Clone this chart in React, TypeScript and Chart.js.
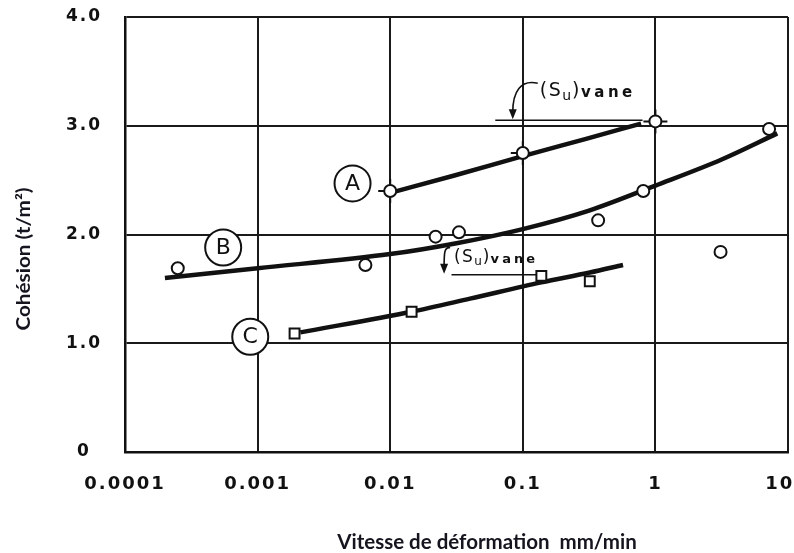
import React, { useEffect, useRef } from "react";
import { Chart, registerables } from "chart.js";

Chart.register(...registerables);

// ---- axis ticks ----
const xTicks = [0.0001, 0.001, 0.01, 0.1, 1, 10];
const xTickLabels = ["0.0001", "0.001", "0.01", "0.1", "1", "10  "];
const yTicks = [0, 1, 2, 3, 4];
const yTickLabels = ["0", "1.0", "2.0", "3.0", "4.0"];

// ---- series A (circles + fitted curve) ----
const circlesAX = [0.01, 0.1, 1];
const circlesAY = [2.4, 2.75, 3.04];
const curveAX = [0.0105, 0.03, 0.1, 0.3, 0.78];
const curveAY = [2.39, 2.54, 2.72, 2.88, 3.02];

// ---- series B ----
const circlesBX = [0.00025, 0.0065, 0.022, 0.033, 0.37, 0.81, 3.1, 7.2];
const circlesBY = [1.69, 1.72, 1.98, 2.02, 2.13, 2.4, 1.84, 2.97];
const curveBX = [0.0002, 0.001, 0.01, 0.0316, 0.1, 0.316, 1, 3.16, 8.3];
const curveBY = [1.6, 1.69, 1.82, 1.92, 2.05, 2.22, 2.45, 2.69, 2.93];

// ---- series C (squares) ----
const squaresCX = [0.0019, 0.0145, 0.138, 0.32];
const squaresCY = [1.09, 1.29, 1.62, 1.57];
const curveCX = [0.0021, 0.0145, 0.04, 0.138, 0.32, 0.57];
const curveCY = [1.1, 1.29, 1.41, 1.56, 1.65, 1.72];

// ---- (Su)vane reference lines ----
const vaneTopX = [0.062, 0.8];
const vaneTopY = [3.05, 3.05];
const vaneBotX = [0.029, 0.128];
const vaneBotY = [1.63, 1.63];
const vaneArrowX = [0.084, 0.0255];
const vaneArrowY = [3.05, 1.63];

// ---- circled curve labels ----
const labelNames = ["A", "B", "C"];
const labelX = [0.0052, 0.00055, 0.00088];
const labelY = [2.47, 1.88, 1.06];

const xTitle = "Vitesse de déformation  mm/min";
const yTitle = "Cohésion (t/m²)";

const zip = (xs: number[], ys: number[]) => xs.map((x, i) => ({ x, y: ys[i] }));

const INK = "#111";

function drawVaneText(ctx: CanvasRenderingContext2D, x: number, y: number, s: number) {
  ctx.save();
  ctx.fillStyle = INK;
  ctx.textAlign = "left";
  ctx.textBaseline = "alphabetic";
  const big = `${Math.round(19 * s)}px "DejaVu Sans"`;
  const small = `${Math.round(14 * s)}px "DejaVu Sans"`;
  const vane = `bold ${Math.round(15 * s)}px "DejaVu Sans"`;
  ctx.letterSpacing = "0px";
  ctx.font = big;
  ctx.fillText("(", x, y);
  x += ctx.measureText("(").width + 1.5 * s;
  ctx.fillText("S", x, y);
  x += ctx.measureText("S").width + 1.5 * s;
  ctx.font = small;
  ctx.fillText("u", x, y + 4 * s);
  x += ctx.measureText("u").width + 1 * s;
  ctx.font = big;
  ctx.fillText(")", x, y);
  x += ctx.measureText(")").width + 1.5 * s;
  ctx.font = vane;
  ctx.letterSpacing = `${3.5 * s}px`;
  ctx.fillText("vane", x, y + 1 * s);
  ctx.restore();
}

function drawArrow(ctx: CanvasRenderingContext2D, tx: number, ty: number, pts: number[]) {
  ctx.save();
  ctx.strokeStyle = INK;
  ctx.fillStyle = INK;
  ctx.lineWidth = 1.6;
  ctx.beginPath();
  ctx.moveTo(tx + pts[0], ty + pts[1]);
  ctx.bezierCurveTo(tx + pts[2], ty + pts[3], tx + pts[4], ty + pts[5], tx, ty - 7);
  ctx.stroke();
  ctx.beginPath();
  ctx.moveTo(tx, ty);
  ctx.lineTo(tx - 4, ty - 10);
  ctx.lineTo(tx + 4, ty - 10);
  ctx.closePath();
  ctx.fill();
  ctx.restore();
}

const decor = {
  id: "decor",
  beforeDraw(chart: any) {
    const ctx = chart.ctx;
    ctx.save();
    ctx.fillStyle = "#fff";
    ctx.fillRect(0, 0, chart.width, chart.height);
    ctx.restore();
    ctx.letterSpacing = "2px";
  },
  beforeDatasetsDraw(chart: any) {
    chart.ctx.letterSpacing = "0px";
  },
  afterDatasetsDraw(chart: any) {
    const ctx = chart.ctx as CanvasRenderingContext2D;
    const xs = chart.scales.x;
    const ys = chart.scales.y;
    ctx.save();
    ctx.letterSpacing = "0px";
    ctx.fillStyle = INK;
    ctx.font = '22px "DejaVu Sans"';
    ctx.textAlign = "center";
    ctx.textBaseline = "middle";
    labelNames.forEach((n, i) => {
      ctx.fillText(n, xs.getPixelForValue(labelX[i]), ys.getPixelForValue(labelY[i]) + 1);
    });

    // (Su)vane annotations
    const t0x = xs.getPixelForValue(vaneArrowX[0]);
    const t0y = ys.getPixelForValue(vaneArrowY[0]);
    drawArrow(ctx, t0x, t0y - 1, [25, -36, 8, -40, 0, -28]);
    drawVaneText(ctx, t0x + 27, t0y - 24, 1);

    const t1x = xs.getPixelForValue(vaneArrowX[1]);
    const t1y = ys.getPixelForValue(vaneArrowY[1]);
    drawArrow(ctx, t1x, t1y - 1, [6, -26, 0, -27, 0, -20]);
    drawVaneText(ctx, t1x + 10, t1y - 13, 0.88);
    ctx.restore();
  },
  afterDraw(chart: any) {
    const ctx = chart.ctx as CanvasRenderingContext2D;
    ctx.save();
    ctx.letterSpacing = "0px";
    ctx.fillStyle = "#15151f";
    ctx.textAlign = "center";
    ctx.textBaseline = "middle";
    ctx.font = "bold 20.5px Lato";
    ctx.fillText(xTitle, 487, 542);
    ctx.translate(24, 259);
    ctx.rotate(-Math.PI / 2);
    ctx.scale(1.15, 1);
    ctx.font = "bold 18px Lato";
    ctx.fillText(yTitle, 0, 0);
    ctx.restore();
  },
};

export default function App() {
  const ref = useRef<HTMLCanvasElement | null>(null);

  useEffect(() => {
    if (!ref.current) return;
    const pointCommon = {
      showLine: false,
      pointBackgroundColor: "#fff",
      pointBorderColor: INK,
      pointBorderWidth: 2,
    };
    const curveCommon = {
      showLine: true,
      borderColor: INK,
      borderWidth: 4.5,
      pointRadius: 0,
      tension: 0.4,
      cubicInterpolationMode: "monotone" as const,
      fill: false,
    };
    const zeroPad = (s: any) => {
      s.paddingLeft = 0;
      s.paddingRight = 0;
      s.paddingTop = 0;
      s.paddingBottom = 0;
    };
    const chart = new Chart(ref.current, {
      type: "scatter",
      data: {
        datasets: [
          { ...pointCommon, data: zip(circlesAX, circlesAY), pointStyle: "circle", pointRadius: 6, order: 1 },
          { ...pointCommon, data: zip(circlesBX, circlesBY), pointStyle: "circle", pointRadius: 6, order: 1 },
          { ...pointCommon, data: zip(squaresCX, squaresCY), pointStyle: "rect", pointRadius: 7, order: 1 },
          {
            data: zip(circlesAX, circlesAY),
            showLine: false,
            pointStyle: "cross",
            pointRadius: 12,
            pointBorderColor: INK,
            pointBorderWidth: 2,
            order: 2,
          },
          {
            ...pointCommon,
            data: zip(labelX, labelY),
            pointStyle: "circle",
            pointRadius: 18,
            order: 3,
          },
          { ...curveCommon, data: zip(curveAX, curveAY), order: 5 },
          { ...curveCommon, data: zip(curveBX, curveBY), order: 5 },
          { ...curveCommon, data: zip(curveCX, curveCY), order: 5 },
          {
            data: zip(vaneTopX, vaneTopY),
            showLine: true,
            borderColor: INK,
            borderWidth: 1.6,
            pointRadius: 0,
            order: 6,
          },
          {
            data: zip(vaneBotX, vaneBotY),
            showLine: true,
            borderColor: INK,
            borderWidth: 1.6,
            pointRadius: 0,
            order: 6,
          },
        ],
      },
      options: {
        animation: false,
        responsive: false,
        events: [],
        layout: { autoPadding: false, padding: { left: 0, right: 6, top: 17, bottom: 0 } },
        plugins: { legend: { display: false }, tooltip: { enabled: false }, title: { display: false } },
        scales: {
          x: {
            type: "logarithmic",
            min: 0.0001,
            max: 10,
            offset: false,
            afterBuildTicks: (s: any) => {
              s.ticks = xTicks.map((v) => ({ value: v }));
            },
            afterFit: (s: any) => {
              s.height = 101;
              zeroPad(s);
            },
            ticks: {
              autoSkip: false,
              maxRotation: 0,
              minRotation: 0,
              padding: 22,
              color: INK,
              font: { family: "DejaVu Sans", size: 18, weight: "bold" },
              callback: (_v: any, i: number) => xTickLabels[i],
            },
            grid: { color: "#1a1a1a", lineWidth: 2, drawTicks: false },
            border: { color: "#111", width: 2.5 },
          },
          y: {
            type: "linear",
            min: 0,
            max: 4,
            afterBuildTicks: (s: any) => {
              s.ticks = yTicks.map((v) => ({ value: v }));
            },
            afterFit: (s: any) => {
              s.width = 125;
              zeroPad(s);
            },
            ticks: {
              padding: 26,
              crossAlign: "center",
              color: INK,
              font: { family: "DejaVu Sans", size: 17, weight: "bold" },
              callback: (v: any) => yTickLabels[yTicks.indexOf(Number(v))],
            },
            grid: { color: "#1a1a1a", lineWidth: 2, drawTicks: false },
            border: { color: "#111", width: 2.5 },
          },
        },
      },
      plugins: [decor],
    } as any);
    return () => chart.destroy();
  }, []);

  return (
    <canvas
      ref={ref}
      width={794}
      height={553}
      style={{ position: "absolute", left: 0, top: 0, width: 794, height: 553 }}
    />
  );
}
